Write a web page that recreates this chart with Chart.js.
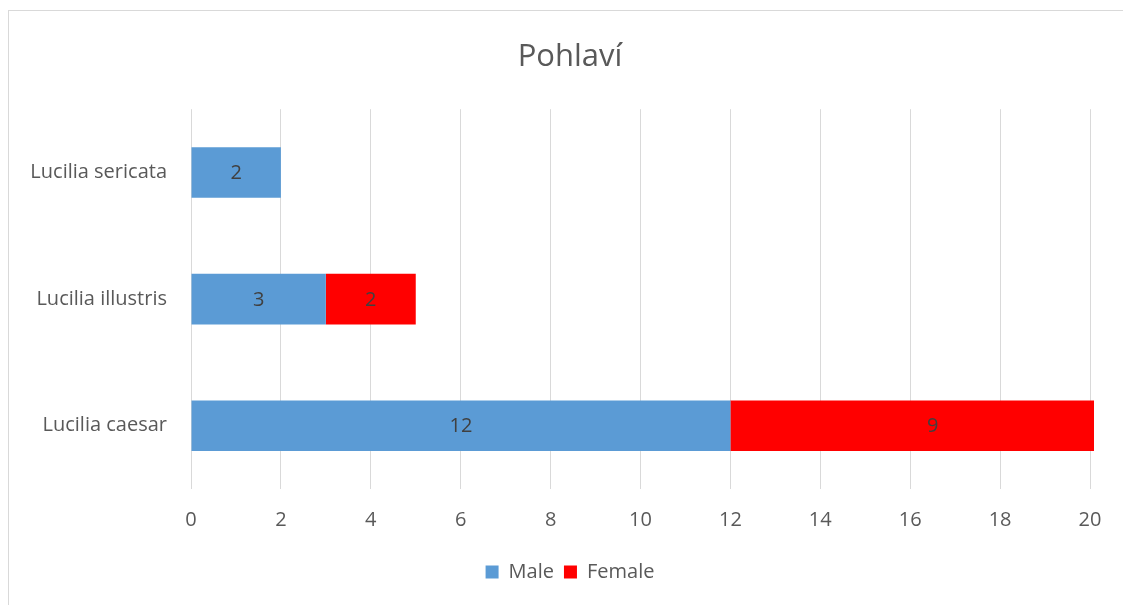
<!DOCTYPE html>
<html>
<head>
<meta charset="utf-8">
<script src="https://cdn.jsdelivr.net/npm/chart.js@4.4.0/dist/chart.umd.min.js"></script>
<style>
  html, body { margin: 0; padding: 0; background: #fff; overflow: hidden; }
  #wrap { position: relative; width: 1123px; height: 605px; }
  #frame { position: absolute; left: 8px; top: 10px; width: 1200px; height: 700px;
           border-left: 1px solid #d9d9d9; border-top: 1px solid #d9d9d9; box-sizing: border-box; }
  canvas { position: absolute; left: 0; top: 0; }
</style>
</head>
<body>
<div id="wrap">
  <div id="frame"></div>
  <canvas id="c" width="1123" height="605"></canvas>
</div>
<script>
const categories = ["Lucilia sericata", "Lucilia illustris", "Lucilia caesar"];
const maleValues = [2, 3, 12];
const femaleValues = [null, 2, 9];
const xTicks = [0, 2, 4, 6, 8, 10, 12, 14, 16, 18, 20];
const seriesNames = ["Male", "Female"];

const FONT = "'Open Sans', Lato, sans-serif";

const labelPlugin = {
  id: 'barLabels',
  afterDatasetsDraw(chart) {
    const ctx = chart.ctx;
    ctx.save();
    ctx.font = "20px " + FONT;
    ctx.fillStyle = "#404040";
    ctx.textAlign = "center";
    ctx.textBaseline = "middle";
    chart.data.datasets.forEach((ds, di) => {
      const meta = chart.getDatasetMeta(di);
      meta.data.forEach((bar, i) => {
        const v = ds.data[i];
        if (v === null || v === undefined) return;
        const cx = (bar.x + bar.base) / 2;
        ctx.fillText(String(v), cx, bar.y + 1);
      });
    });
    ctx.restore();
  }
};

new Chart(document.getElementById('c'), {
  type: 'bar',
  data: {
    labels: categories,
    datasets: [
      { label: seriesNames[0], data: maleValues, backgroundColor: '#5B9BD5',
        categoryPercentage: 0.4, barPercentage: 1, clip: {left: 0, top: 0, right: 4, bottom: 0} },
      { label: seriesNames[1], data: femaleValues, backgroundColor: '#FF0000',
        categoryPercentage: 0.4, barPercentage: 1, clip: {left: 0, top: 0, right: 4, bottom: 0} }
    ]
  },
  options: {
    indexAxis: 'y',
    responsive: false,
    animation: false,
    layout: { padding: { left: 17, right: 0, top: 0, bottom: 13 } },
    scales: {
      x: {
        stacked: true, min: 0, max: 20,
        afterBuildTicks(scale) { scale.ticks = xTicks.map(v => ({ value: v })); },
        afterFit(scale) { scale.height = 63; },
        grid: { color: '#d9d9d9', lineWidth: 1, drawTicks: false },
        border: { display: false },
        ticks: { color: '#595959', font: { family: FONT, size: 20 }, padding: 19 }
      },
      y: {
        stacked: true,
        afterFit(scale) { scale.width = 174; },
        grid: { display: false, drawTicks: false },
        border: { display: false },
        ticks: { color: '#595959', font: { family: FONT, size: 20 }, padding: 24 }
      },
      yRight: {
        type: 'category', position: 'right', display: true,
        afterFit(scale) { scale.width = 33; },
        grid: { display: false, drawTicks: false },
        border: { display: false },
        ticks: { display: false }
      }
    },
    plugins: {
      title: {
        display: true, text: 'Pohlaví', color: '#595959',
        font: { family: FONT, size: 31, weight: 'normal' },
        padding: { top: 39, bottom: 33 }
      },
      legend: {
        display: true, position: 'bottom',
        labels: { color: '#595959', font: { family: FONT, size: 20 }, boxWidth: 13, boxHeight: 13, padding: 10 }
      },
      tooltip: { enabled: false }
    }
  },
  plugins: [labelPlugin]
});
</script>
</body>
</html>
